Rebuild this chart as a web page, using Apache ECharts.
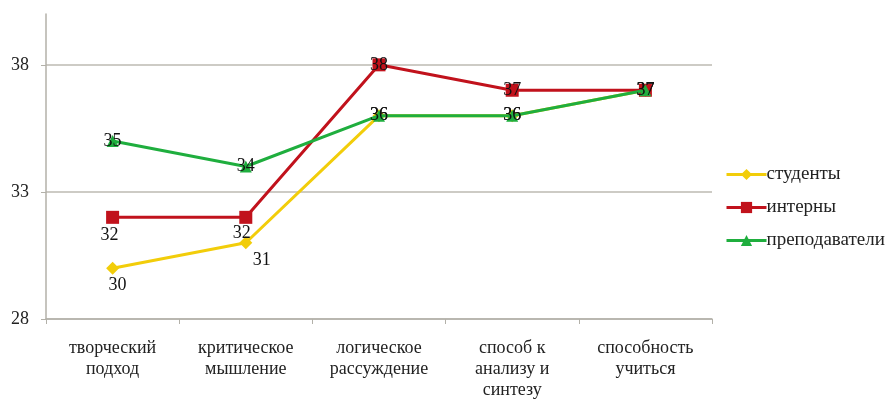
<!DOCTYPE html>
<html>
<head>
<meta charset="utf-8">
<script src="https://cdn.jsdelivr.net/npm/echarts@6/dist/echarts.min.js"></script>
<style>
    html, body { margin: 0; padding: 0; background: #fff; }
    #chart { width: 886px; height: 401px; }
</style>
</head>
<body>
<div id="chart"></div>
<script>
var categories = ['творческий\nподход', 'критическое\nмышление', 'логическое\nрассуждение', 'способ к\nанализу и\nсинтезу', 'способность\nучиться'];
var students = [30, 31, 36, 36, 37];
var interns = [32, 32, 38, 37, 37];
var teachers = [35, 34, 36, 36, 37];
var seriesNames = ['студенты', 'интерны', 'преподаватели'];
var yTicks = { min: 28, max: 40, interval: 5 };

var serif = 'serif';

// первые две точки студентов и интернов подписаны снизу, остальные по центру
function withLabels(values, belowCount, offset) {
    return values.map(function (v, i) {
        if (i < belowCount) {
            return { value: v, label: { position: 'bottom', offset: offset[i] || [0, 0] } };
        }
        return { value: v, label: { position: 'inside' } };
    });
}

var chartDom = document.getElementById('chart');
var myChart = echarts.init(chartDom);

var option = {
    animation: false,
    backgroundColor: '#fff',
    textStyle: { fontFamily: serif },
    grid: { left: 46, right: 174, top: 14, bottom: 82, containLabel: false, outerBoundsMode: 'none' },
    legend: {
        orient: 'vertical',
        left: 720,
        top: 160,
        itemWidth: 40,
        itemHeight: 14,
        itemGap: 14,
        lineStyle: { width: 3 },
        textStyle: { fontFamily: serif, fontSize: 19, color: '#222', padding: [0, 0, 0, -5] },
        data: seriesNames
    },
    xAxis: {
        type: 'category',
        data: categories,
        boundaryGap: true,
        axisLine: { lineStyle: { color: '#b3b1a9', width: 1.5 } },
        axisTick: { show: true, length: 5, lineStyle: { color: '#b3b1a9' } },
        axisLabel: {
            interval: 0,
            margin: 19,
            color: '#222',
            fontFamily: serif,
            fontSize: 18,
            lineHeight: 21
        }
    },
    yAxis: {
        type: 'value',
        min: yTicks.min,
        max: yTicks.max,
        interval: yTicks.interval,
        axisLine: { show: true, lineStyle: { color: '#b3b1a9', width: 1.5 } },
        axisTick: { show: true, length: 5, lineStyle: { color: '#b3b1a9' } },
        axisLabel: {
            showMaxLabel: false,
            margin: 17,
            color: '#222',
            fontFamily: serif,
            fontSize: 18
        },
        splitLine: {
            show: true,
            showMaxLine: false,
            lineStyle: { color: '#bcbab2', width: 1.5 }
        }
    },
    series: [
        {
            name: seriesNames[0],
            type: 'line',
            data: withLabels(students, 2, [[5, -3], [16, -3]]),
            symbol: 'diamond',
            symbolSize: 13,
            color: '#f2cd0a',
            lineStyle: { width: 3 },
            label: { show: true, fontFamily: serif, fontSize: 18, color: '#111' },
            z: 2
        },
        {
            name: seriesNames[1],
            type: 'line',
            data: withLabels(interns, 2, [[-3, -3], [-4, -5]]),
            symbol: 'rect',
            symbolSize: 13,
            color: '#c1121c',
            lineStyle: { width: 3 },
            label: { show: true, fontFamily: serif, fontSize: 18, color: '#111' },
            z: 3
        },
        {
            name: seriesNames[2],
            type: 'line',
            data: teachers,
            symbol: 'triangle',
            symbolSize: 12,
            color: '#1fae3e',
            lineStyle: { width: 3 },
            label: { show: true, position: 'inside', fontFamily: serif, fontSize: 18, color: '#111' },
            z: 4
        }
    ]
};
option && myChart.setOption(option);
</script>
</body>
</html>
